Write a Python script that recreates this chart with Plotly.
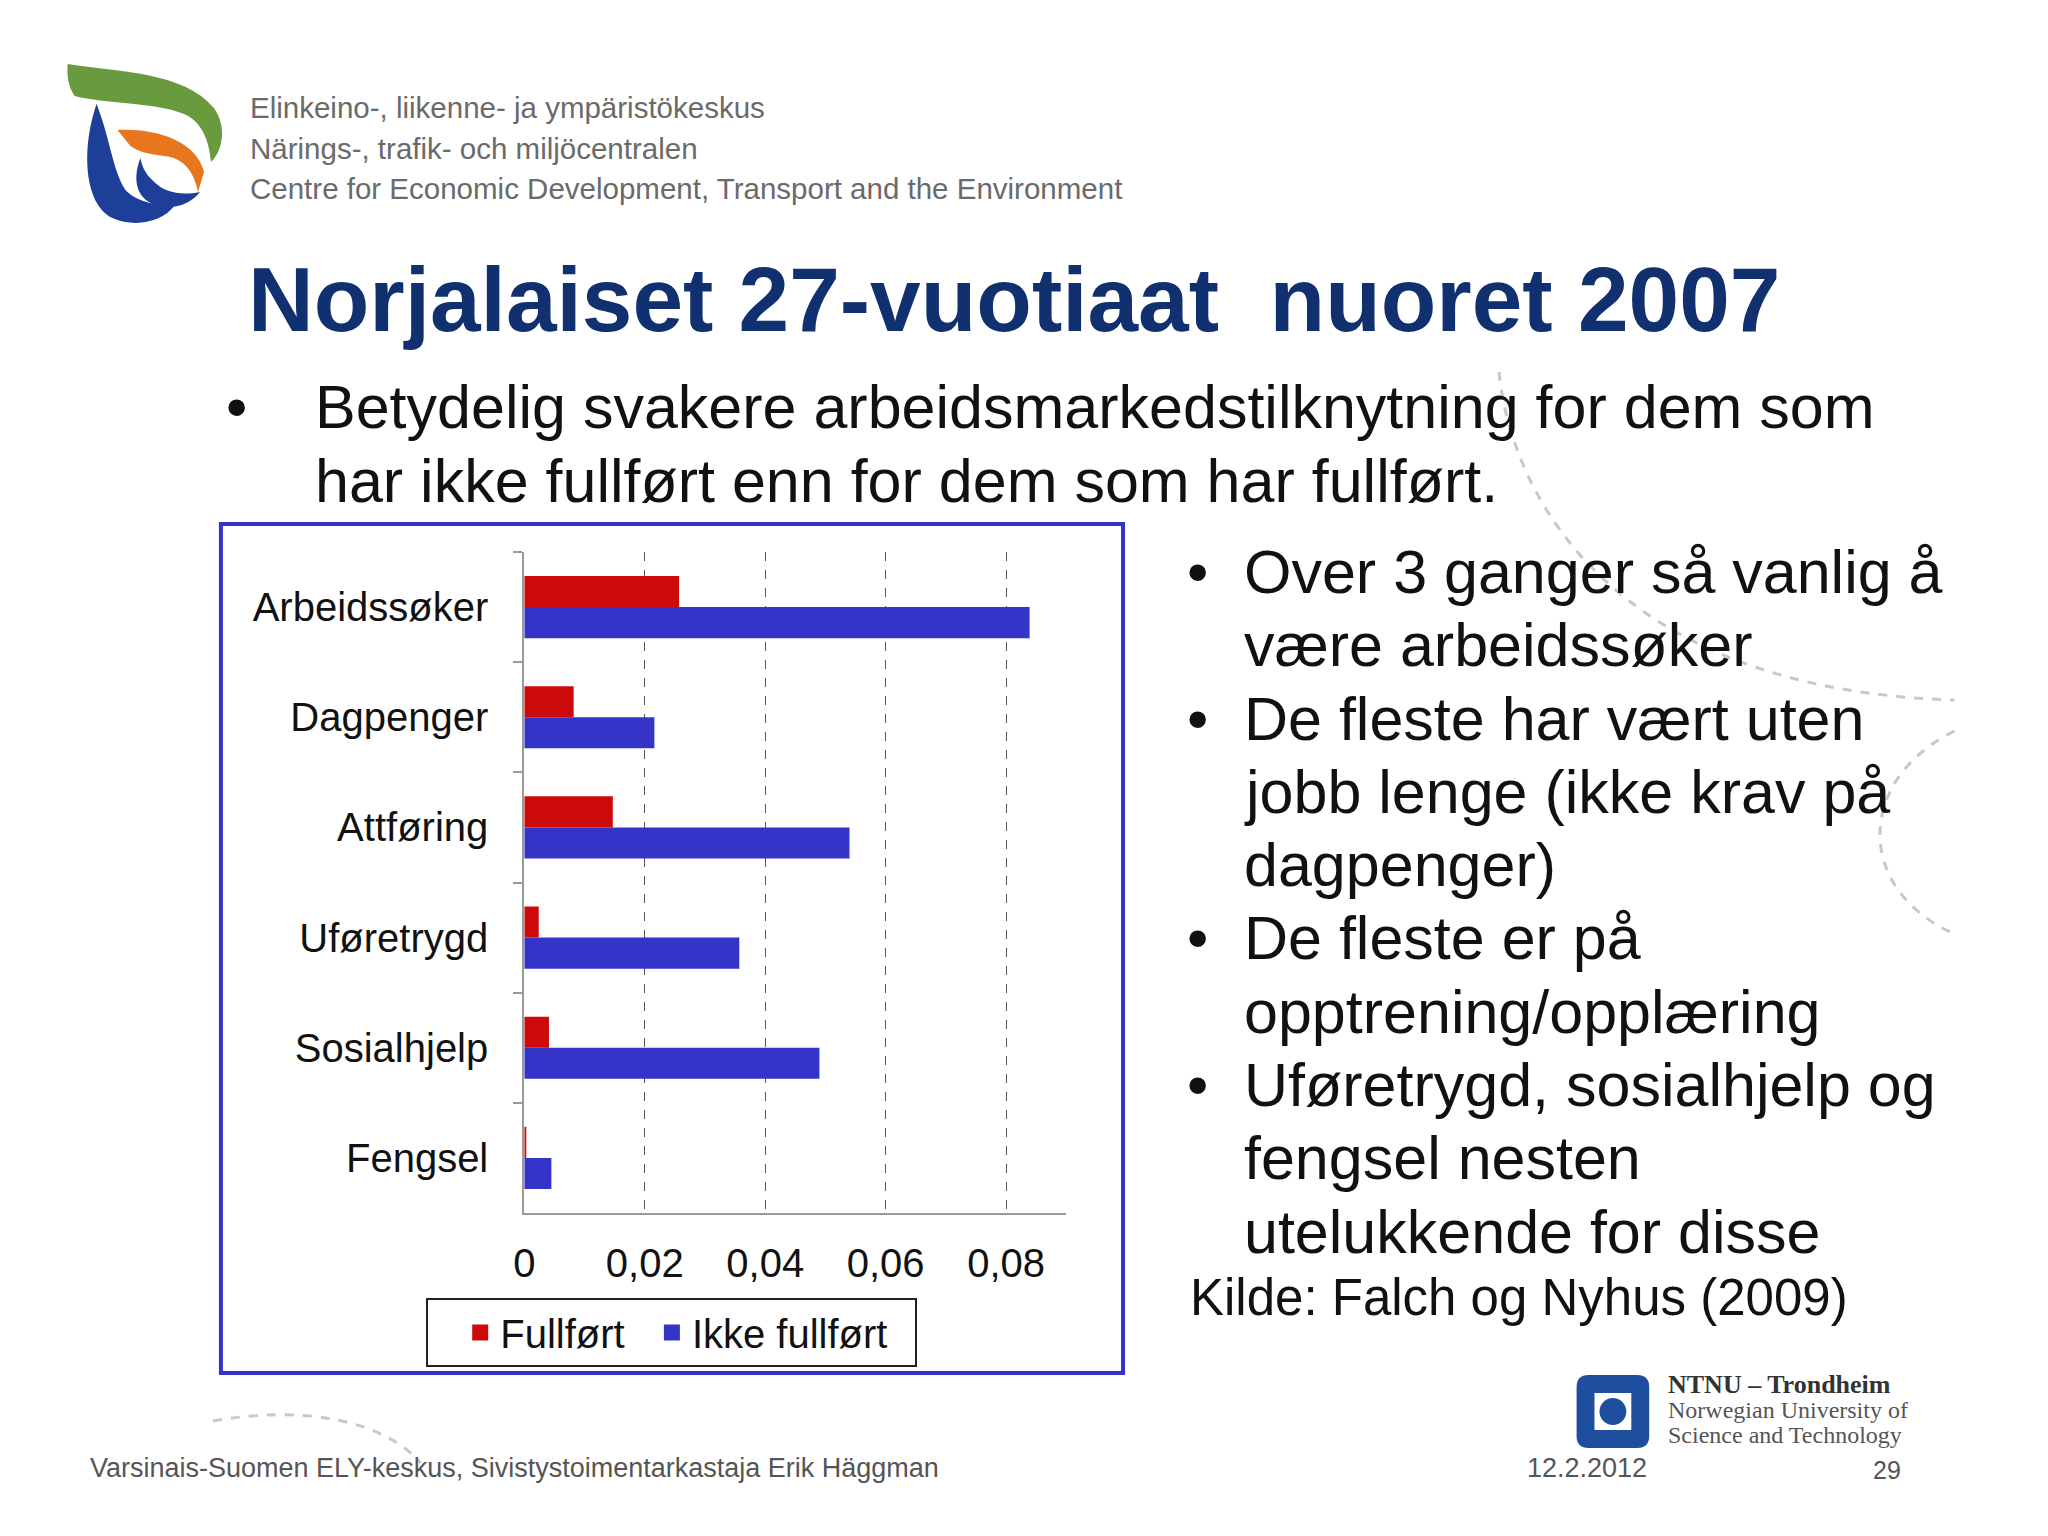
import plotly.graph_objects as go

W, H = 2048, 1536

# ---- data ----
categories = ["Arbeidssøker", "Dagpenger", "Attføring", "Uføretrygd", "Sosialhjelp", "Fengsel"]
fullfort = [0.0257, 0.0082, 0.0147, 0.0024, 0.0041, 0.0003]
ikke_fullfort = [0.0839, 0.0216, 0.0540, 0.0357, 0.0490, 0.0045]
series_names = ["Fullført", "Ikke fullført"]
x_tick_vals = [0, 0.02, 0.04, 0.06, 0.08]
x_tick_text = ["0", "0,02", "0,04", "0,06", "0,08"]

title_text = "Norjalaiset 27-vuotiaat  nuoret 2007"
top_lines = ["Betydelig svakere arbeidsmarkedstilknytning for dem som",
             "har ikke fullført enn for dem som har fullført."]
right_bullets = [
    ["Over 3 ganger så vanlig å", "være arbeidssøker"],
    ["De fleste har vært uten", "jobb lenge (ikke krav på", "dagpenger)"],
    ["De fleste er på", "opptrening/opplæring"],
    ["Uføretrygd, sosialhjelp og", "fengsel nesten", "utelukkende for disse"],
]
source_text = "Kilde: Falch og Nyhus (2009)"
header_lines = ["Elinkeino-, liikenne- ja ympäristökeskus",
                "Närings-, trafik- och miljöcentralen",
                "Centre for Economic Development, Transport and the Environment"]
footer_left = "Varsinais-Suomen ELY-keskus, Sivistystoimentarkastaja Erik Häggman"
footer_date = "12.2.2012"
footer_page = "29"
ntnu_lines = ["NTNU – Trondheim", "Norwegian University of", "Science and Technology"]

RED = "#cc0a0a"
BLUE = "#3434c8"
FONT = "Liberation Sans, Arial, sans-serif"
SERIF = "Liberation Serif, Times New Roman, serif"
NBSP = "\u00a0"

# compensation for page offset of the rendered figure
OX, OY = -14, -8


def fx(x):
    return (x + OX) / W


def fy(y):
    return 1 - (y + OY) / H


def path(cmds, close=True):
    out = []
    for c in cmds:
        op = c[0]
        nums = c[1:]
        pts = []
        for i in range(0, len(nums), 2):
            pts.append(f"{fx(nums[i]):.5f},{fy(nums[i+1]):.5f}")
        out.append(op + " ".join(pts))
    return " ".join(out) + (" Z" if close else "")


fig = go.Figure()
fig.add_trace(go.Bar(y=categories, x=fullfort, orientation="h", name=series_names[0],
                     marker=dict(color=RED, line=dict(width=0)), showlegend=False))
fig.add_trace(go.Bar(y=categories, x=ikke_fullfort, orientation="h", name=series_names[1],
                     marker=dict(color=BLUE, line=dict(width=0)), showlegend=False))
# legend entries with larger square symbols
for nm, col in zip(series_names, [RED, BLUE]):
    fig.add_trace(go.Scatter(x=[None], y=[None], mode="markers", name=nm + NBSP * 2,
                             marker=dict(symbol="square", size=19, color=col)))

x0, x1 = 522, 1067
y0, y1 = 552, 1213

fig.update_layout(
    width=W, height=H,
    margin=dict(l=0, r=0, t=0, b=0),
    paper_bgcolor="white", plot_bgcolor="white",
    barmode="group", bargap=0.436, bargroupgap=0,
    showlegend=True,
    legend=dict(orientation="h", x=fx(670), xanchor="center", y=fy(1298), yanchor="top",
                font=dict(family=FONT, size=40, color="#111"),
                bordercolor="#222", borderwidth=2, bgcolor="white",
                itemwidth=30, traceorder="normal",
                title=dict(text=NBSP * 2, side="left", font=dict(family=FONT, size=40))),
    xaxis=dict(domain=[fx(x0), fx(x1)], range=[0, 0.09], tickvals=x_tick_vals, ticktext=x_tick_text,
               showgrid=True, griddash="dash", gridcolor="#555", gridwidth=1,
               zeroline=False, showline=True, linecolor="#9a9a9a", linewidth=2,
               ticks="", tickfont=dict(family=FONT, size=40, color="#111"), ticklabelstandoff=14),
    yaxis=dict(domain=[fy(y1), fy(y0)], range=[5.5, -0.5], type="category",
               showgrid=False, zeroline=False, showline=True, linecolor="#9a9a9a", linewidth=2,
               ticks="outside", tickson="boundaries", ticklen=9, tickcolor="#9a9a9a", tickwidth=2,
               tickfont=dict(family=FONT, size=40, color="#111"), ticklabelstandoff=26),
)

shapes = []
# chart frame
shapes.append(dict(type="rect", xref="paper", yref="paper", x0=fx(217), x1=fx(1124), y0=fy(1373), y1=fy(524),
                   line=dict(color="#3333cc", width=4), fillcolor="rgba(0,0,0,0)", layer="below"))

# decorative dashed arcs
arc_style = dict(color="#c8c8c8", width=3, dash="dash")
shapes.append(dict(type="path", xref="paper", yref="paper",
                   path=path([("M", 1502, 372), ("C", 1515, 500, 1620, 690, 1960, 700)], close=False),
                   line=arc_style))
shapes.append(dict(type="path", xref="paper", yref="paper",
                   path=path([("M", 1960, 731), ("C", 1860, 780, 1860, 890, 1960, 934)], close=False),
                   line=arc_style))
shapes.append(dict(type="path", xref="paper", yref="paper",
                   path=path([("M", 209, 1421), ("C", 300, 1405, 380, 1420, 418, 1463)], close=False),
                   line=arc_style))

# ELY logo
GREEN, ORANGE, LBLUE = "#6a9a3e", "#e8761f", "#1d3e99"
shapes.append(dict(type="path", xref="paper", yref="paper", fillcolor=GREEN, line=dict(width=0),
                   path=path([("M", 63, 64), ("C", 115, 72, 180, 72, 210, 108),
                              ("C", 224, 128, 218, 152, 207, 162),
                              ("C", 205, 140, 198, 122, 180, 114),
                              ("C", 150, 102, 100, 104, 70, 96),
                              ("C", 63, 86, 62, 74, 63, 64)])))
shapes.append(dict(type="path", xref="paper", yref="paper", fillcolor=ORANGE, line=dict(width=0),
                   path=path([("M", 113, 130), ("C", 150, 128, 192, 140, 200, 172),
                              ("L", 194, 192),
                              ("C", 190, 172, 180, 158, 160, 156),
                              ("C", 145, 154, 134, 152, 126, 146)])))
shapes.append(dict(type="path", xref="paper", yref="paper", fillcolor=LBLUE, line=dict(width=0),
                   path=path([("M", 92, 104), ("C", 76, 150, 80, 205, 108, 218),
                              ("C", 130, 228, 158, 222, 170, 206),
                              ("C", 150, 206, 130, 200, 121, 190),
                              ("C", 108, 170, 106, 140, 92, 104)])))
shapes.append(dict(type="path", xref="paper", yref="paper", fillcolor=LBLUE, line=dict(width=0),
                   path=path([("M", 136, 158), ("C", 126, 185, 135, 204, 160, 207),
                              ("C", 176, 208, 188, 202, 196, 192),
                              ("C", 176, 196, 160, 192, 150, 182),
                              ("C", 142, 175, 138, 168, 136, 158)])))

# NTNU logo
NB = "#1f4e9e"
shapes.append(dict(type="path", xref="paper", yref="paper", fillcolor=NB, line=dict(width=0),
                   path=path([("M", 1592, 1375), ("L", 1641, 1375), ("Q", 1653, 1375, 1653, 1387),
                              ("L", 1653, 1436), ("Q", 1653, 1448, 1641, 1448), ("L", 1592, 1448),
                              ("Q", 1580, 1448, 1580, 1436), ("L", 1580, 1387), ("Q", 1580, 1375, 1592, 1375)])))
shapes.append(dict(type="rect", xref="paper", yref="paper", x0=fx(1598), x1=fx(1635), y0=fy(1430), y1=fy(1393),
                   fillcolor="white", line=dict(width=0)))
shapes.append(dict(type="circle", xref="paper", yref="paper", x0=fx(1603), x1=fx(1630), y0=fy(1425), y1=fy(1398),
                   fillcolor=NB, line=dict(width=0)))

fig.update_layout(shapes=shapes)

ann = []


def text(x, y, s, size, color="#111", bold=False, family=FONT, anchor="left"):
    ann.append(dict(xref="paper", yref="paper", x=fx(x), y=fy(y), text=("<b>%s</b>" % s) if bold else s,
                    showarrow=False, xanchor=anchor, yanchor="middle",
                    font=dict(family=family, size=size, color=color)))


# header
for i, line in enumerate(header_lines):
    text(244, 108 + i * 40, line, 29.5, color="#6a6a6a")
# title
text(242, 300, title_text, 91, color="#10306f", bold=True)
# top bullet
text(220, 407, "•", 61)
for i, line in enumerate(top_lines):
    text(310, 407 + i * 74, line, 61)
# right bullets
yy = 572
for b in right_bullets:
    text(1186, yy, "•", 61)
    for line in b:
        text(1244, yy, line, 61)
        yy += 73.3
text(1189, 1297, source_text, 51)

# footer
text(83, 1468, footer_left, 27, color="#555")
text(1528, 1468, footer_date, 27, color="#555")
text(1876, 1470, footer_page, 25, color="#555")
# NTNU text
text(1670, 1384, ntnu_lines[0], 26, color="#333", bold=True, family=SERIF)
text(1670, 1410, ntnu_lines[1], 24, color="#555", family=SERIF)
text(1670, 1435, ntnu_lines[2], 24, color="#555", family=SERIF)

fig.update_layout(annotations=ann)
fig.write_html("out.html")
